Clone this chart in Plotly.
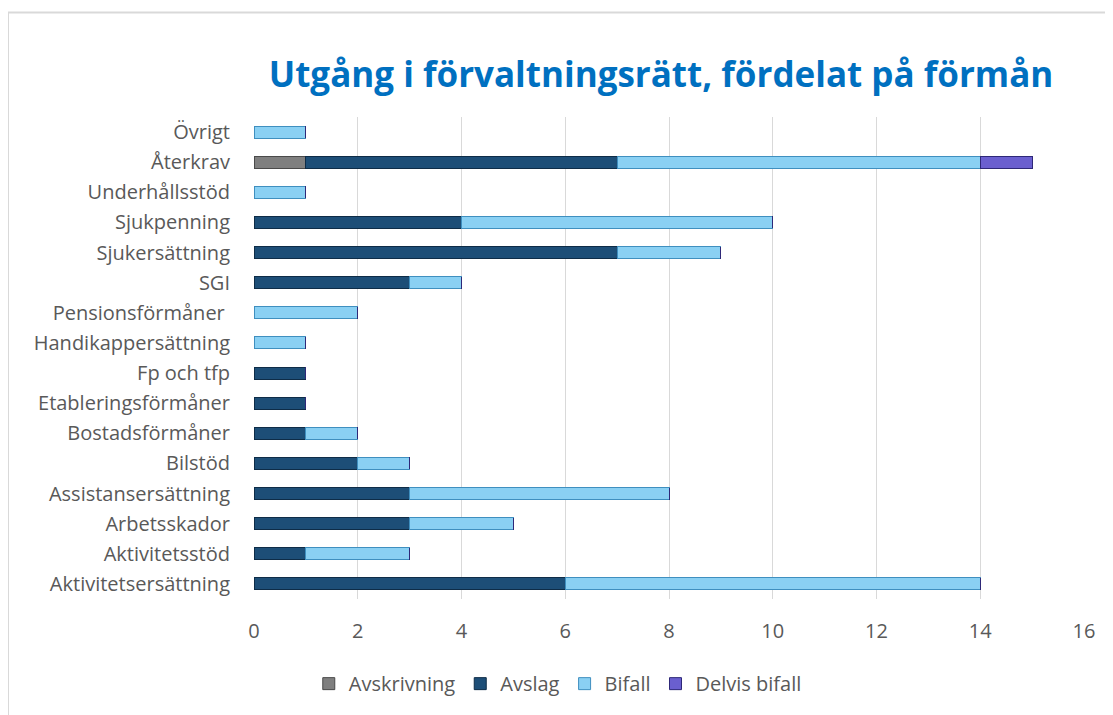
import plotly.graph_objects as go

categories = ["Aktivitetsersättning", "Aktivitetsstöd", "Arbetsskador", "Assistansersättning",
              "Bilstöd", "Bostadsförmåner", "Etableringsförmåner", "Fp och tfp",
              "Handikappersättning", "Pensionsförmåner ", "SGI", "Sjukersättning",
              "Sjukpenning", "Underhållsstöd", "Återkrav", "Övrigt"]
avskrivning = [0, 0, 0, 0, 0, 0, 0, 0, 0, 0, 0, 0, 0, 0, 1, 0]
avslag      = [6, 1, 3, 3, 2, 1, 1, 1, 0, 0, 3, 7, 4, 0, 6, 0]
bifall      = [8, 2, 2, 5, 1, 1, 0, 0, 1, 2, 1, 2, 6, 1, 7, 1]
delvis      = [0, 0, 0, 0, 0, 0, 0, 0, 0, 0, 0, 0, 0, 0, 1, 0]
x_ticks = [0, 2, 4, 6, 8, 10, 12, 14, 16]

series = [
    ("Avskrivning", avskrivning, "#7f7f7f", "#4a4a4a"),
    ("Avslag", avslag, "#1d4e77", "#0e2c47"),
    ("Bifall", bifall, "#8ad0f3", "#3f8fbf"),
    ("Delvis bifall", delvis, "#6a5fcf", "#2e2878"),
]

fig = go.Figure()
for name, vals, col, lcol in series:
    fig.add_trace(go.Bar(
        y=categories, x=vals, name=name, orientation="h",
        marker=dict(color=col, line=dict(color=lcol, width=1)),
        width=0.4,
    ))

font_family = "Open Sans, Noto Sans, Liberation Sans, sans-serif"
# page body has an 8px margin; figure is sized/placed to compensate
fig.update_layout(
    barmode="stack",
    width=1105, height=707,
    paper_bgcolor="white", plot_bgcolor="white",
    margin=dict(l=246, r=29, t=109, b=114),
    font=dict(family=font_family, size=20, color="#595959"),
    title=dict(text="<b>Utgång i förvaltningsrätt, fördelat på förmån</b>",
               x=0.591, xanchor="center", y=0.905, yanchor="middle",
               font=dict(family=font_family, size=35, color="#0070c0")),
    xaxis=dict(range=[0, 16], tickvals=x_ticks, showgrid=True, gridcolor="#d9d9d9",
               gridwidth=1, zeroline=False, showline=False, ticks="",
               ticklabelstandoff=18, automargin=False,
               tickfont=dict(size=20, color="#595959")),
    yaxis=dict(categoryorder="array", categoryarray=categories, showgrid=False,
               showline=False, ticks="", ticklabelstandoff=23, automargin=False,
               tickfont=dict(size=20, color="#595959")),
    legend=dict(orientation="h", x=0.366, xanchor="center", y=-0.1756, yanchor="middle",
                font=dict(size=20, color="#595959"), traceorder="normal",
                itemwidth=30),
    bargap=0.6,
    shapes=[
        dict(type="line", xref="paper", yref="paper", x0=-0.2964, x1=1.1, y0=1.2169, y1=1.2169,
             line=dict(color="#d9d9d9", width=2)),
        dict(type="line", xref="paper", yref="paper", x0=-0.2964, x1=-0.2964, y0=1.2169, y1=-0.3,
             line=dict(color="#d9d9d9", width=2)),
    ],
)

fig.write_html("out.html")
